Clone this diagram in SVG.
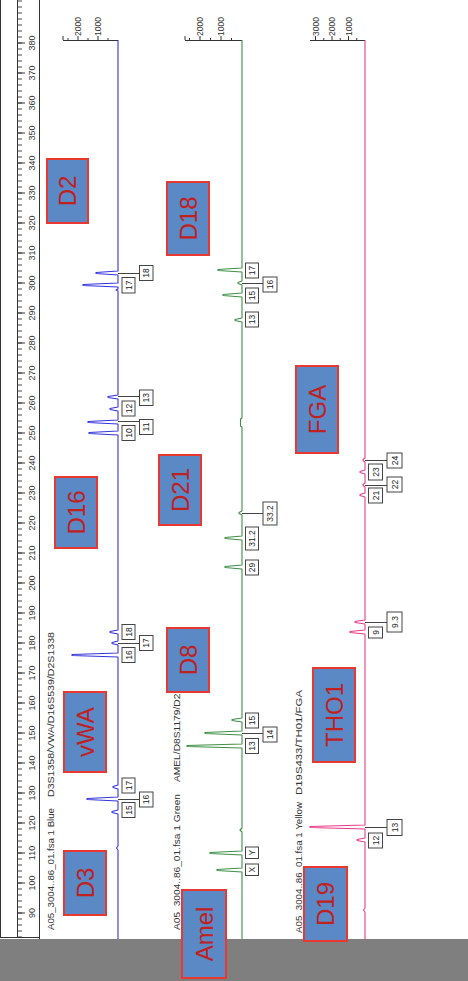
<svg xmlns="http://www.w3.org/2000/svg" width="468" height="981" viewBox="0 0 468 981">
<defs>
<style>
.rl{font-family:"Liberation Sans",Arial,sans-serif;font-size:9px;fill:#333;text-anchor:middle}
.ax{font-family:"Liberation Sans",Arial,sans-serif;font-size:8.5px;fill:#333}
.hd{font-family:"Liberation Sans",Arial,sans-serif;font-size:9.5px;fill:#333}
.bx rect{fill:#fff;stroke:#444;stroke-width:1}
.bx text{font-family:"Liberation Sans",Arial,sans-serif;font-size:8.5px;fill:#222;text-anchor:middle}
.big rect{fill:#5a89c6;stroke:#e8382f;stroke-width:2}
.big text{font-family:"Liberation Sans",Arial,sans-serif;font-size:24px;fill:#c0201e;text-anchor:middle}
.tr{fill:none;stroke-width:1.1;stroke-linejoin:round}
.lead{stroke:#444;stroke-width:1;fill:none}
.tk{stroke:#333;stroke-width:1;fill:none}
</style>
<pattern id="mt" x="0" y="0.5" width="10" height="6" patternUnits="userSpaceOnUse"><rect x="0" y="0" width="10" height="1" fill="#444"/></pattern>
</defs>
<rect width="468" height="981" fill="#fff"/>

<g id="ruler">
<path class="tk" d="M0.5,0V937 M17.5,0V937 M39.5,0V939 M0,937.5H40" stroke-width="1.3"/>
<rect x="18" y="0" width="4" height="937" fill="url(#mt)"/>
<path class="tk" d="M18,43h7M18,73h7M18,103h7M18,133h7M18,163h7M18,193h7M18,223h7M18,253h7M18,283h7M18,313h7M18,343h7M18,373h7M18,403h7M18,433h7M18,463h7M18,493h7M18,523h7M18,553h7M18,583h7M18,613h7M18,643h7M18,673h7M18,703h7M18,733h7M18,763h7M18,793h7M18,823h7M18,853h7M18,883h7M18,913h7"/>
<text class="rl" transform="translate(35,43) rotate(-90)">380</text>
<text class="rl" transform="translate(35,73) rotate(-90)">370</text>
<text class="rl" transform="translate(35,103) rotate(-90)">360</text>
<text class="rl" transform="translate(35,133) rotate(-90)">350</text>
<text class="rl" transform="translate(35,163) rotate(-90)">340</text>
<text class="rl" transform="translate(35,193) rotate(-90)">330</text>
<text class="rl" transform="translate(35,223) rotate(-90)">320</text>
<text class="rl" transform="translate(35,253) rotate(-90)">310</text>
<text class="rl" transform="translate(35,283) rotate(-90)">300</text>
<text class="rl" transform="translate(35,313) rotate(-90)">290</text>
<text class="rl" transform="translate(35,343) rotate(-90)">280</text>
<text class="rl" transform="translate(35,373) rotate(-90)">270</text>
<text class="rl" transform="translate(35,403) rotate(-90)">260</text>
<text class="rl" transform="translate(35,433) rotate(-90)">250</text>
<text class="rl" transform="translate(35,463) rotate(-90)">240</text>
<text class="rl" transform="translate(35,493) rotate(-90)">230</text>
<text class="rl" transform="translate(35,523) rotate(-90)">220</text>
<text class="rl" transform="translate(35,553) rotate(-90)">210</text>
<text class="rl" transform="translate(35,583) rotate(-90)">200</text>
<text class="rl" transform="translate(35,613) rotate(-90)">190</text>
<text class="rl" transform="translate(35,643) rotate(-90)">180</text>
<text class="rl" transform="translate(35,673) rotate(-90)">170</text>
<text class="rl" transform="translate(35,703) rotate(-90)">160</text>
<text class="rl" transform="translate(35,733) rotate(-90)">150</text>
<text class="rl" transform="translate(35,763) rotate(-90)">140</text>
<text class="rl" transform="translate(35,793) rotate(-90)">130</text>
<text class="rl" transform="translate(35,823) rotate(-90)">120</text>
<text class="rl" transform="translate(35,853) rotate(-90)">110</text>
<text class="rl" transform="translate(35,883) rotate(-90)">100</text>
<text class="rl" transform="translate(35,913) rotate(-90)">90</text>
</g>

<g id="blue-channel">
<path class="tk" d="M63,40.5H118 M68,40v-2 M78,40v-4 M88,40v-2 M98,40v-4 M108,40v-2 M63,40v-4"/>
<text class="ax" transform="translate(81,36) rotate(-90)">2000</text>
<text class="ax" transform="translate(101,36) rotate(-90)">1000</text>
<text class="hd" transform="translate(54,930) rotate(-90)" textLength="122" lengthAdjust="spacingAndGlyphs">A05_3004..86_01.fsa  1 Blue</text>
<text class="hd" transform="translate(54,797) rotate(-90)" textLength="165" lengthAdjust="spacingAndGlyphs">D3S1358/VWA/D16S539/D2S1338</text>
<path class="tr" stroke="#3434dc" d="M118,40 L118,271 L96,272.5 L96,273.5 L118,275 L118,283 L83,284.5 L83,285.5 L118,287 L118,289 L116,290 L118,291 L118,395 L108,396.5 L108,397.5 L118,399 L118,407 L110,408.5 L110,409.5 L118,411 L118,420 L88,421.5 L88,422.5 L118,424 L118,431 L89,432.5 L89,433.5 L118,435 L118,630 L110,631.5 L110,632.5 L118,634 L118,641 L112,642.5 L112,643.5 L118,645 L118,653 L72,654.5 L72,655.5 L118,657 L118,785 L113,786.5 L113,787.5 L118,789 L118,797 L87,798.5 L87,799.5 L118,801 L118,810 L112,811.5 L112,812.5 L118,814 L118,846 L116.5,848 L118,850 L118,939"/>
</g>

<g id="green-channel">
<path class="tk" d="M185,40.5H242 M189.5,40v-2 M200,40v-4 M210.5,40v-2 M221,40v-4 M231.5,40v-2 M185,40v-4"/>
<text class="ax" transform="translate(203,36) rotate(-90)">2000</text>
<text class="ax" transform="translate(224,36) rotate(-90)">1000</text>
<text class="hd" transform="translate(180,930) rotate(-90)" textLength="136" lengthAdjust="spacingAndGlyphs">A05_3004..86_01.fsa  1 Green</text>
<text class="hd" transform="translate(180,782) rotate(-90)" textLength="94" lengthAdjust="spacingAndGlyphs">AMEL/D8S1179/D21</text>
<path class="tr" stroke="#3f8f46" d="M242,40 L242,268 L218,269.5 L218,270.5 L242,272 L242,281 L238,282.5 L238,283.5 L242,285 L242,293 L223,294.5 L223,295.5 L242,297 L242,318 L235,319.5 L235,320.5 L242,322 L242,418 L240.5,419 L240.5,426 L242,427 L242,511 L239,512.5 L239,513.5 L242,515 L242,536 L225,537.5 L225,538.5 L242,540 L242,565 L225,566.5 L225,567.5 L242,569 L242,718 L232,719.5 L232,720.5 L242,722 L242,731 L205,732.5 L205,733.5 L242,735 L242,744 L187,745.5 L187,746.5 L242,748 L242,828 L240,830 L242,832 L242,851 L210,852.5 L210,853.5 L242,855 L242,868 L217,869.5 L217,870.5 L242,872 L242,939"/>
</g>

<g id="yellow-channel">
<path class="tk" d="M310,40.5H365 M315.5,40v-4 M323.75,40v-2 M332,40v-4 M340.25,40v-2 M348.5,40v-4 M356.75,40v-2"/>
<text class="ax" transform="translate(318.5,36) rotate(-90)">3000</text>
<text class="ax" transform="translate(335,36) rotate(-90)">2000</text>
<text class="ax" transform="translate(351.5,36) rotate(-90)">1000</text>
<text class="hd" transform="translate(302,933) rotate(-90)" textLength="131" lengthAdjust="spacingAndGlyphs">A05_3004..86_01.fsa  1 Yellow</text>
<text class="hd" transform="translate(302,795) rotate(-90)" textLength="105" lengthAdjust="spacingAndGlyphs">D19S433/TH01/FGA</text>
<path class="tr" stroke="#e63c86" d="M365,40 L365,458 L363,459.5 L363,460.5 L365,462 L365,470 L360,471.5 L360,472.5 L365,474 L365,483 L363,484.5 L363,485.5 L365,487 L365,493 L360,494.5 L360,495.5 L365,497 L365,620 L355,621.5 L355,622.5 L365,624 L365,630 L350,631.5 L350,632.5 L365,634 L365,825 L310,826.5 L310,827.5 L365,829 L365,838 L357,839.5 L357,840.5 L365,842 L365,908 L363.5,910 L365,912 L365,939"/>
</g>

<g id="connectors">
<path class="lead" d="M118,273.5H139.5 M118,396.5H139.5 M118,421.5H139.5 M118,643.5H139.5 M118,799.5H139.5 M242,283.5H263 M242,513.5H263 M242,733.5H263 M365,460.5H387 M365,485.5H387 M365,622.5H387 M365,827.5H387"/>
</g>

<g id="peak-labels-blue" class="bx">
<g id="b-d2-17"><rect x="122" y="277.5" width="13" height="15.5"/><text transform="translate(131.6,285.25) rotate(-90)">17</text></g>
<g id="b-d2-18"><rect x="139.5" y="265.5" width="13.5" height="15"/><text transform="translate(149.3,273) rotate(-90)">18</text></g>
<g id="b-d16-13"><rect x="139.5" y="390" width="13.5" height="15.5"/><text transform="translate(149.3,397.75) rotate(-90)">13</text></g>
<g id="b-d16-12"><rect x="122" y="401" width="13" height="15"/><text transform="translate(131.6,408.5) rotate(-90)">12</text></g>
<g id="b-d16-11"><rect x="139.5" y="419.5" width="13.5" height="15"/><text transform="translate(149.3,427) rotate(-90)">11</text></g>
<g id="b-d16-10"><rect x="122" y="425.5" width="13" height="15"/><text transform="translate(131.6,433) rotate(-90)">10</text></g>
<g id="b-vwa-18"><rect x="122" y="624.5" width="13" height="15"/><text transform="translate(131.6,632) rotate(-90)">18</text></g>
<g id="b-vwa-17"><rect x="139.5" y="635.5" width="13.5" height="15"/><text transform="translate(149.3,643) rotate(-90)">17</text></g>
<g id="b-vwa-16"><rect x="122" y="647.5" width="13" height="15"/><text transform="translate(131.6,655) rotate(-90)">16</text></g>
<g id="b-d3-17"><rect x="122" y="778" width="13" height="15"/><text transform="translate(131.6,785.5) rotate(-90)">17</text></g>
<g id="b-d3-16"><rect x="139.5" y="792" width="13.5" height="15"/><text transform="translate(149.3,799.5) rotate(-90)">16</text></g>
<g id="b-d3-15"><rect x="122" y="802.5" width="13" height="15"/><text transform="translate(131.6,810) rotate(-90)">15</text></g>
</g>

<g id="peak-labels-green" class="bx">
<g id="g-d18-17"><rect x="245.5" y="263" width="13" height="15"/><text transform="translate(255.1,270.5) rotate(-90)">17</text></g>
<g id="g-d18-16"><rect x="263" y="277" width="14" height="15"/><text transform="translate(273.1,284.5) rotate(-90)">16</text></g>
<g id="g-d18-15"><rect x="245.5" y="288" width="13" height="15"/><text transform="translate(255.1,295.5) rotate(-90)">15</text></g>
<g id="g-d18-13"><rect x="245.5" y="312" width="13" height="15"/><text transform="translate(255.1,319.5) rotate(-90)">13</text></g>
<g id="g-d21-33.2"><rect x="263" y="502" width="14" height="23"/><text transform="translate(273.1,513.5) rotate(-90)">33.2</text></g>
<g id="g-d21-31.2"><rect x="245.5" y="527" width="13" height="23"/><text transform="translate(255.1,538.5) rotate(-90)">31.2</text></g>
<g id="g-d21-29"><rect x="245.5" y="560" width="13" height="15"/><text transform="translate(255.1,567.5) rotate(-90)">29</text></g>
<g id="g-d8-15"><rect x="245.5" y="713" width="13" height="15"/><text transform="translate(255.1,720.5) rotate(-90)">15</text></g>
<g id="g-d8-14"><rect x="263" y="727" width="14" height="15"/><text transform="translate(273.1,734.5) rotate(-90)">14</text></g>
<g id="g-d8-13"><rect x="245.5" y="738.5" width="13" height="15"/><text transform="translate(255.1,746) rotate(-90)">13</text></g>
<g id="g-amel-y"><rect x="245.5" y="847" width="13" height="11.5"/><text transform="translate(255.1,852.75) rotate(-90)">Y</text></g>
<g id="g-amel-x"><rect x="245.5" y="864" width="13" height="11.5"/><text transform="translate(255.1,869.75) rotate(-90)">X</text></g>
</g>

<g id="peak-labels-yellow" class="bx">
<g id="y-fga-24"><rect x="387" y="453" width="15" height="15"/><text transform="translate(397.6,460.5) rotate(-90)">24</text></g>
<g id="y-fga-23"><rect x="368.5" y="464" width="14" height="16"/><text transform="translate(378.6,472) rotate(-90)">23</text></g>
<g id="y-fga-22"><rect x="387" y="477" width="15" height="15"/><text transform="translate(397.6,484.5) rotate(-90)">22</text></g>
<g id="y-fga-21"><rect x="368.5" y="488" width="14" height="15"/><text transform="translate(378.6,495.5) rotate(-90)">21</text></g>
<g id="y-th01-9.3"><rect x="387" y="612" width="15" height="20"/><text transform="translate(397.6,622) rotate(-90)">9.3</text></g>
<g id="y-th01-9"><rect x="368.5" y="627" width="14" height="11"/><text transform="translate(378.6,632.5) rotate(-90)">9</text></g>
<g id="y-d19-13"><rect x="387" y="819.5" width="15" height="16"/><text transform="translate(397.6,827.5) rotate(-90)">13</text></g>
<g id="y-d19-12"><rect x="368.5" y="833" width="14" height="15"/><text transform="translate(378.6,840.5) rotate(-90)">12</text></g>
</g>

<rect id="footer-band" x="0" y="939" width="468" height="42" fill="#7f7f7f"/>

<g class="big">
<g id="D2"><rect x="47" y="159" width="41" height="64"/><text transform="translate(76.1,191) rotate(-90)">D2</text></g>
<g id="D16"><rect x="55" y="477" width="42" height="71"/><text transform="translate(84.6,512.5) rotate(-90)">D16</text></g>
<g id="vWA"><rect x="64" y="692" width="42" height="80"/><text transform="translate(93.6,732) rotate(-90)">vWA</text></g>
<g id="D3"><rect x="64" y="851" width="42" height="64"/><text transform="translate(93.6,883) rotate(-90)">D3</text></g>
<g id="D18"><rect x="167" y="182" width="42" height="73"/><text transform="translate(196.6,218.5) rotate(-90)">D18</text></g>
<g id="D21"><rect x="159" y="455" width="42" height="70"/><text transform="translate(188.6,490) rotate(-90)">D21</text></g>
<g id="D8"><rect x="167" y="628" width="42" height="64"/><text transform="translate(196.6,660) rotate(-90)">D8</text></g>
<g id="Amel"><rect x="182" y="890" width="44" height="88"/><text transform="translate(212.6,934) rotate(-90)">Amel</text></g>
<g id="FGA"><rect x="296" y="366" width="42" height="87"/><text transform="translate(325.6,409.5) rotate(-90)">FGA</text></g>
<g id="THO1"><rect x="313" y="668" width="42" height="94"/><text transform="translate(342.6,715) rotate(-90)">THO1</text></g>
<g id="D19"><rect x="304" y="867" width="43" height="74"/><text transform="translate(334.1,904) rotate(-90)">D19</text></g>
</g>
</svg>
